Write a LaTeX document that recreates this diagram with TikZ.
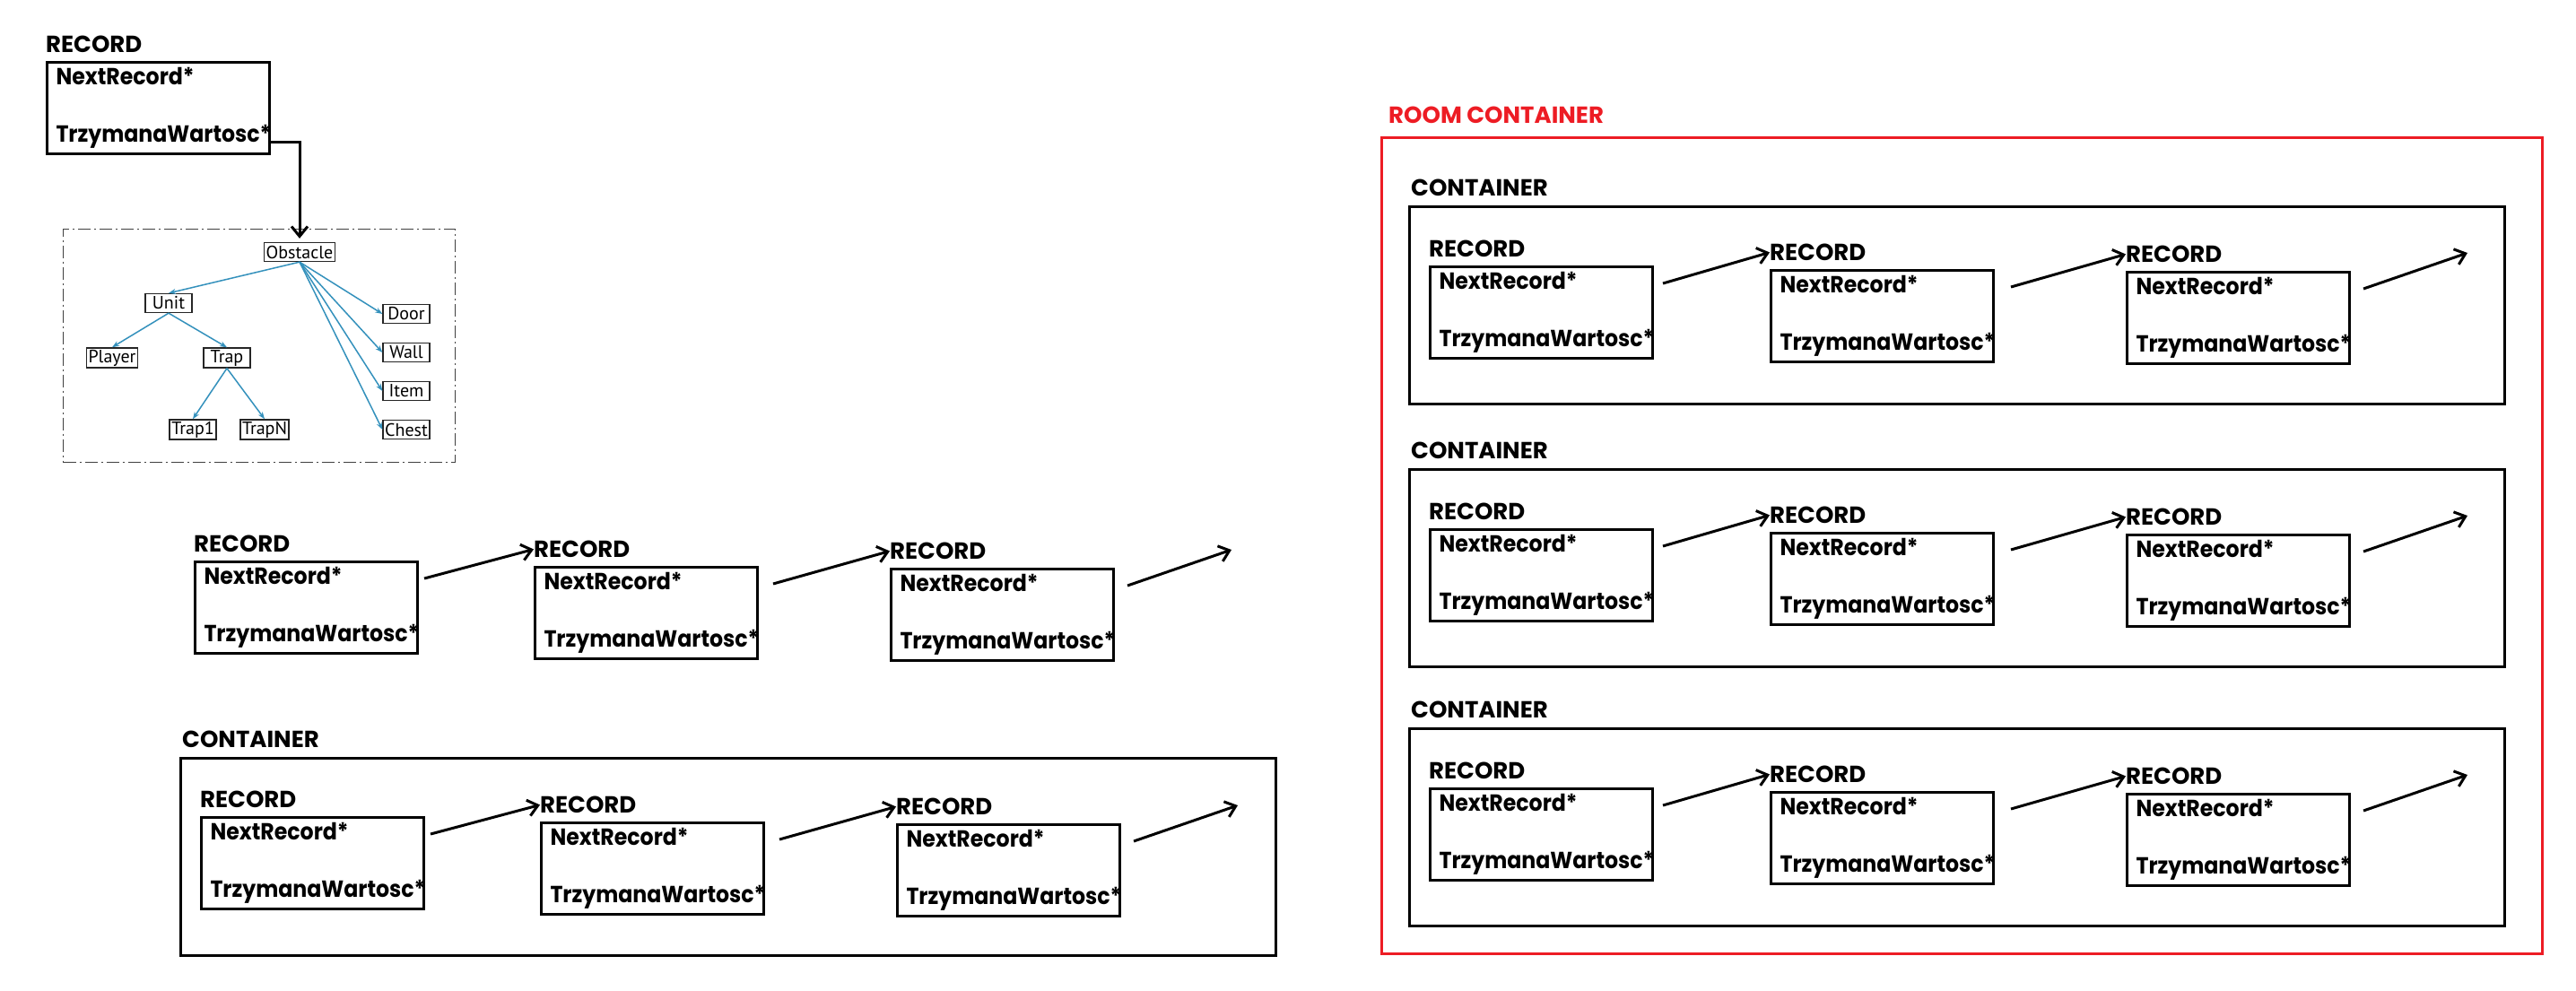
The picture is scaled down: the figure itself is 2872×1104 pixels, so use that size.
\documentclass[tikz,border=0pt]{standalone}
\usepackage{fontspec}
\setmainfont{Poppins}
\newfontfamily\recfont{Poppins}[FakeStretch=0.91]
\newfontfamily\treefont{PT Sans}
\usetikzlibrary{positioning, arrows.meta}
\definecolor{roomred}{RGB}{237,28,36}
\definecolor{treeblue}{RGB}{52,145,188}
\tikzstyle{record} = [rectangle, draw=black, line width=3pt, minimum width=248pt, minimum height=102pt, text width=228pt, inner xsep=10pt, inner ysep=4pt, align=left, font=\recfont\fontsize{26}{31}\selectfont\bfseries]
\tikzstyle{container} = [rectangle, draw=black, line width=3pt, minimum width=1221pt, minimum height=220pt]
\tikzstyle{room} = [rectangle, draw=roomred, line width=2.5pt, minimum width=1294pt, minimum height=910pt]
\tikzstyle{frame} = [rectangle, draw=black!75, line width=1.2pt, dash pattern=on 14pt off 4pt on 2pt off 4pt, minimum width=437pt, minimum height=260pt]
\tikzstyle{class} = [rectangle, draw=black!85, line width=1.3pt, minimum width=52pt, minimum height=21pt, inner sep=2pt, font=\treefont\fontsize{20}{23}\selectfont]
\tikzstyle{title} = [anchor=south west, inner sep=0pt, xshift=3pt, yshift=10pt, font=\fontsize{26}{31}\selectfont\bfseries]
\tikzstyle{arrow} = [line width=3pt, ->, >={Straight Barb[length=11pt, width=18pt]}]
\tikzstyle{inherit} = [treeblue, line width=1.5pt, ->, >={Stealth[length=8pt, width=6pt]}]
\tikzset{tag/.style={label={[name=#1, anchor=south west, inner sep=0pt, yshift=9pt, font=\fontsize{26}{31}\selectfont\bfseries]north west:RECORD}}}

\begin{document}
\begin{tikzpicture}[x=1pt, y=-1pt]
	\useasboundingbox (0,0) rectangle (2872,1104);
	% one record and what it holds
	\node (top) [record, tag=topl, anchor=north west] at (51,68) {NextRecord*\\[33pt]TrzymanaWartosc*};
	\node (frame) [frame, anchor=north west] at (70,255) {};
	\node (obstacle) [class] at (334,281) {Obstacle};
	\node (unit) [class] at (188,338) {Unit};
	\node (player) [class] at (125,399) {Player};
	\node (trap) [class] at (253,399) {Trap};
	\node (trap1) [class] at (215,479) {Trap1};
	\node (trapn) [class] at (295,479) {TrapN};
	\node (door) [class] at (453,350) {Door};
	\node (wall) [class] at (453,393) {Wall};
	\node (item) [class] at (453,436) {Item};
	\node (chest) [class] at (453,479) {Chest};
	
	\draw [arrow, shorten >=4pt] ([yshift=15pt]top.south east) -| (obstacle.north);
	\draw [inherit] (obstacle.south) -- (unit.north);
	\draw [inherit] (obstacle.south) -- (door.west);
	\draw [inherit] (obstacle.south) -- (wall.west);
	\draw [inherit] (obstacle.south) -- (item.west);
	\draw [inherit] (obstacle.south) -- (chest.west);
	\draw [inherit] (unit.south) -- (player.north);
	\draw [inherit] (unit.south) -- (trap.north);
	\draw [inherit] (trap.south) -- (trap1.north);
	\draw [inherit] (trap.south) -- (trapn.north);
	
	% list of records
	\node (n1) [record, tag=n1l, anchor=north west] at (216,625) {NextRecord*\\[33pt]TrzymanaWartosc*};
	\node (n2) [record, tag=n2l, right=128pt of n1, yshift=-6pt] {NextRecord*\\[33pt]TrzymanaWartosc*};
	\node (n3) [record, tag=n3l, right=146pt of n2, yshift=-2pt] {NextRecord*\\[33pt]TrzymanaWartosc*};
	\coordinate (nend) at ([xshift=130pt, yshift=20pt]n3.north east);
	
	\draw [arrow] ([xshift=6pt, yshift=-20pt]n1.north east) -- (n2l.west);
	\draw [arrow] ([xshift=16pt, yshift=-20pt]n2.north east) -- (n3l.west);
	\draw [arrow] ([xshift=14pt, yshift=-20pt]n3.north east) -- (nend);
	
	% container
	\node (ct) [container, anchor=north west, label={[title]north west:CONTAINER}] at (200,844) {};
	\node (ct1) [record, tag=ct1l, below right=66pt and 23pt of ct.north west] {NextRecord*\\[33pt]TrzymanaWartosc*};
	\node (ct2) [record, tag=ct2l, right=128pt of ct1, yshift=-6pt] {NextRecord*\\[33pt]TrzymanaWartosc*};
	\node (ct3) [record, tag=ct3l, right=146pt of ct2, yshift=-2pt] {NextRecord*\\[33pt]TrzymanaWartosc*};
	\coordinate (ctend) at ([xshift=130pt, yshift=20pt]ct3.north east);
	
	\draw [arrow] ([xshift=6pt, yshift=-20pt]ct1.north east) -- (ct2l.west);
	\draw [arrow] ([xshift=16pt, yshift=-20pt]ct2.north east) -- (ct3l.west);
	\draw [arrow] ([xshift=14pt, yshift=-20pt]ct3.north east) -- (ctend);
	
	% room container
	\node (room) [room, anchor=north west, label={[title, text=roomred, xshift=6pt, yshift=4pt]north west:ROOM CONTAINER}] at (1539,152) {};
	\node (rc1) [container, below right=77pt and 31pt of room.north west, label={[title]north west:CONTAINER}] {};
	\node (rc2) [container, below=70pt of rc1, label={[title]north west:CONTAINER}] {};
	\node (rc3) [container, below=66pt of rc2, label={[title]north west:CONTAINER}] {};
	
	\node (rc1a) [record, tag=rc1al, below right=67pt and 23pt of rc1.north west] {NextRecord*\\[33pt]TrzymanaWartosc*};
	\node (rc1b) [record, tag=rc1bl, right=129pt of rc1a, yshift=-4pt] {NextRecord*\\[33pt]TrzymanaWartosc*};
	\node (rc1c) [record, tag=rc1cl, right=146pt of rc1b, yshift=-2pt] {NextRecord*\\[33pt]TrzymanaWartosc*};
	\coordinate (rc1end) at ([xshift=130pt, yshift=20pt]rc1c.north east);
	\node (rc2a) [record, tag=rc2al, below right=67pt and 23pt of rc2.north west] {NextRecord*\\[33pt]TrzymanaWartosc*};
	\node (rc2b) [record, tag=rc2bl, right=129pt of rc2a, yshift=-4pt] {NextRecord*\\[33pt]TrzymanaWartosc*};
	\node (rc2c) [record, tag=rc2cl, right=146pt of rc2b, yshift=-2pt] {NextRecord*\\[33pt]TrzymanaWartosc*};
	\coordinate (rc2end) at ([xshift=130pt, yshift=20pt]rc2c.north east);
	\node (rc3a) [record, tag=rc3al, below right=67pt and 23pt of rc3.north west] {NextRecord*\\[33pt]TrzymanaWartosc*};
	\node (rc3b) [record, tag=rc3bl, right=129pt of rc3a, yshift=-4pt] {NextRecord*\\[33pt]TrzymanaWartosc*};
	\node (rc3c) [record, tag=rc3cl, right=146pt of rc3b, yshift=-2pt] {NextRecord*\\[33pt]TrzymanaWartosc*};
	\coordinate (rc3end) at ([xshift=130pt, yshift=20pt]rc3c.north east);
	
	\draw [arrow] ([xshift=10pt, yshift=-20pt]rc1a.north east) -- (rc1bl.west);
	\draw [arrow] ([xshift=18pt, yshift=-20pt]rc1b.north east) -- (rc1cl.west);
	\draw [arrow] ([xshift=14pt, yshift=-20pt]rc1c.north east) -- (rc1end);
	\draw [arrow] ([xshift=10pt, yshift=-20pt]rc2a.north east) -- (rc2bl.west);
	\draw [arrow] ([xshift=18pt, yshift=-20pt]rc2b.north east) -- (rc2cl.west);
	\draw [arrow] ([xshift=14pt, yshift=-20pt]rc2c.north east) -- (rc2end);
	\draw [arrow] ([xshift=10pt, yshift=-20pt]rc3a.north east) -- (rc3bl.west);
	\draw [arrow] ([xshift=18pt, yshift=-20pt]rc3b.north east) -- (rc3cl.west);
	\draw [arrow] ([xshift=14pt, yshift=-20pt]rc3c.north east) -- (rc3end);
\end{tikzpicture}
\end{document}
